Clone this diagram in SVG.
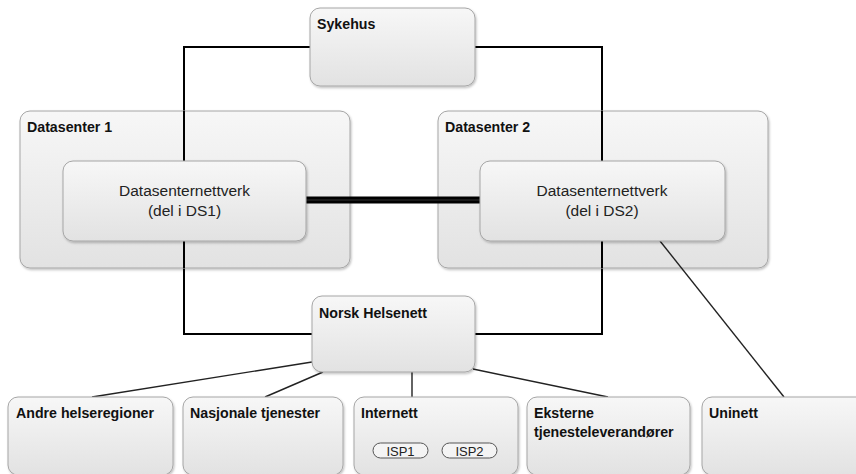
<svg xmlns="http://www.w3.org/2000/svg" width="856" height="474" viewBox="0 0 856 474">
<defs>
<linearGradient id="g" x1="0" y1="0" x2="0" y2="1">
<stop offset="0" stop-color="#f7f7f7"/>
<stop offset="1" stop-color="#e2e2e2"/>
</linearGradient>
<filter id="sh" x="-10%" y="-10%" width="130%" height="130%">
<feDropShadow dx="1" dy="1.5" stdDeviation="1.2" flood-color="#000" flood-opacity="0.25"/>
</filter>
</defs>
<style>
.box{fill:url(#g);stroke:#a6a6a6;stroke-width:1;filter:url(#sh)}
.lbl{font-family:"Liberation Sans",Arial,sans-serif;font-weight:bold;font-size:14.2px;fill:#111}
.txt{font-family:"Liberation Sans",Arial,sans-serif;font-size:15.5px;fill:#222;text-anchor:middle}
.isp{fill:#f4f4f4;stroke:#555;stroke-width:1}
.ispt{font-family:"Liberation Sans",Arial,sans-serif;font-size:13px;fill:#222;text-anchor:middle}
.loop{fill:none;stroke:#000;stroke-width:2}
.thin{fill:none;stroke:#222;stroke-width:1.4}
</style>
<rect width="856" height="474" fill="#fff"/>
<g id="connectors-back">
<path class="loop" d="M310,47 H184 V161 M184,241 V334 H312"/>
<path class="loop" d="M475,47 H602 V161 M602,241 V334 H475"/>
</g>
<g id="datasenter1">
<rect class="box" x="20" y="111" width="330" height="157" rx="10"/>
<text class="lbl" x="27" y="132">Datasenter 1</text>
</g>
<g id="datasenter2">
<rect class="box" x="438" y="111" width="330" height="157" rx="10"/>
<text class="lbl" x="445" y="132">Datasenter 2</text>
</g>
<g id="connectors">
<path class="loop" d="M184,111 V161 M184,241 V268"/>
<path class="loop" d="M602,111 V161 M602,241 V268"/>
<line x1="306" y1="200" x2="480" y2="200" stroke="#000" stroke-width="7"/>
<line x1="306" y1="200" x2="480" y2="200" stroke="#333" stroke-width="1.2"/>
<line class="thin" x1="660" y1="241" x2="784" y2="397"/>
<line class="thin" x1="312" y1="362" x2="92" y2="397"/>
<line class="thin" x1="323" y1="372" x2="265" y2="397"/>
<line class="thin" x1="412" y1="372" x2="412" y2="397"/>
<line class="thin" x1="473" y1="369" x2="608" y2="397"/>
</g>
<g id="dsnett1">
<rect class="box" x="63" y="161" width="243" height="80" rx="10"/>
<text class="txt" x="184.5" y="196">Datasenternettverk</text>
<text class="txt" x="184.5" y="216">(del i DS1)</text>
</g>
<g id="dsnett2">
<rect class="box" x="480" y="161" width="245" height="80" rx="10"/>
<text class="txt" x="602" y="196">Datasenternettverk</text>
<text class="txt" x="602" y="216">(del i DS2)</text>
</g>
<g id="sykehus">
<rect class="box" x="310" y="8" width="165" height="78" rx="10"/>
<text class="lbl" x="317" y="29">Sykehus</text>
</g>
<g id="norsk-helsenett">
<rect class="box" x="312" y="296" width="163" height="76" rx="10"/>
<text class="lbl" x="319" y="318">Norsk Helsenett</text>
</g>
<g id="andre">
<rect class="box" x="8" y="397" width="165" height="78" rx="10"/>
<text class="lbl" x="16" y="418">Andre helseregioner</text>
</g>
<g id="nasjonale">
<rect class="box" x="183" y="397" width="160" height="78" rx="10"/>
<text class="lbl" x="190" y="418">Nasjonale tjenester</text>
</g>
<g id="internett">
<rect class="box" x="354" y="397" width="164" height="78" rx="10"/>
<text class="lbl" x="361" y="418">Internett</text>
<rect class="isp" x="373" y="443" width="55" height="15" rx="7.5"/>
<text class="ispt" x="400.5" y="455.5">ISP1</text>
<rect class="isp" x="442" y="443" width="55" height="15" rx="7.5"/>
<text class="ispt" x="469.5" y="455.5">ISP2</text>
</g>
<g id="eksterne">
<rect class="box" x="527" y="397" width="163" height="78" rx="10"/>
<text class="lbl" x="534" y="418">Eksterne</text>
<text class="lbl" x="534" y="437">tjenesteleverandører</text>
</g>
<g id="uninett">
<rect class="box" x="702" y="397" width="165" height="78" rx="10"/>
<text class="lbl" x="709" y="418">Uninett</text>
</g>
</svg>
